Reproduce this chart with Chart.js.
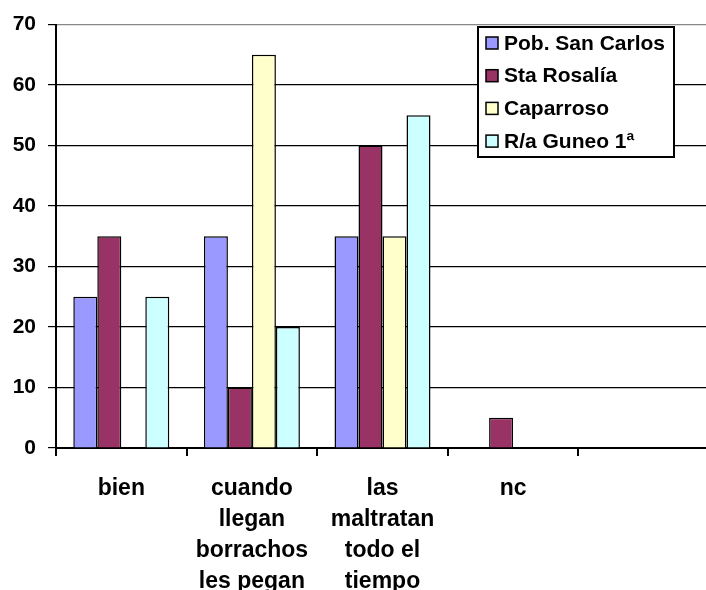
<!DOCTYPE html>
<html><head><meta charset="utf-8">
<script src="https://cdn.jsdelivr.net/npm/chart.js@4"></script>
<style>html,body{margin:0;padding:0;background:#fff;overflow:hidden}#wrap{width:712px;height:590px}</style>
</head><body><div id="wrap"><canvas id="c"></canvas></div>
<script>
const categories = [['bien'], ['cuando', 'llegan', 'borrachos', 'les pegan'], ['las', 'maltratan', 'todo el', 'tiempo'], ['nc'], ['']];
const seriesNames = ['Pob. San Carlos', 'Sta Rosalía', 'Caparroso', 'R/a Guneo 1ª'];
const pobSanCarlos = [25, 35, 35, 0, null];
const staRosalia = [35, 10, 50, 5, null];
const caparroso = [0, 65, 35, 0, null];
const raGuneo = [25, 20, 55, 0, null];
const yMin = 0, yMax = 70, yStep = 10;

const colors = ['#9999FF', '#993366', '#FFFFCC', '#CCFFFF'];
const seriesValues = [pobSanCarlos, staRosalia, caparroso, raGuneo];
const FONT = '"Liberation Sans", Arial, sans-serif';

const boxLegend = {
  id: 'boxLegend',
  afterDraw(chart) {
    const ctx = chart.ctx;
    const x = 478, y = 27, w = 196, h = 130;
    ctx.save();
    ctx.fillStyle = '#fff'; ctx.fillRect(x, y, w, h);
    ctx.lineWidth = 2; ctx.strokeStyle = '#000'; ctx.strokeRect(x, y, w, h);
    ctx.font = 'bold 21px ' + FONT;
    ctx.textBaseline = 'middle';
    ctx.textAlign = 'left';
    chart.data.datasets.forEach((ds, i) => {
      const cy = y + 16 + i * 32.7;
      ctx.fillStyle = ds.backgroundColor; ctx.fillRect(x + 8, cy - 6, 12, 12);
      ctx.lineWidth = 1.5; ctx.strokeStyle = '#000'; ctx.strokeRect(x + 8, cy - 6, 12, 12);
      ctx.fillStyle = '#000'; ctx.fillText(ds.label, x + 26, cy + 1);
    });
    ctx.restore();
  }
};

new Chart(document.getElementById('c'), {
  type: 'bar',
  data: {
    labels: categories,
    datasets: seriesNames.map((n, i) => ({
      label: n,
      data: seriesValues[i],
      backgroundColor: colors[i],
      borderColor: '#000',
      borderWidth: 1.5,
      categoryPercentage: 0.735,
      barPercentage: 1.0
    }))
  },
  options: {
    responsive: true,
    maintainAspectRatio: false,
    animation: false,
    layout: { padding: { top: 24, right: 3, left: 0, bottom: 0 } },
    plugins: { legend: { display: false }, tooltip: { enabled: false } },
    scales: {
      x: {
        offset: true,
        grid: { offset: true, drawOnChartArea: false, color: '#000', lineWidth: 2, tickLength: 8 },
        border: { display: true, color: '#000', width: 2 },
        ticks: { color: '#000', font: { family: FONT, size: 23, weight: 'bold', lineHeight: 1.35 }, padding: 17, maxRotation: 0, autoSkip: false },
        afterFit(s) { s.height = 142; }
      },
      y: {
        min: yMin, max: yMax,
        grid: { color: (c) => c.tick && c.tick.value === yMax ? '#888' : '#000', tickColor: '#000', lineWidth: 1.2, tickLength: 8 },
        border: { display: true, color: '#000', width: 2 },
        ticks: { stepSize: yStep, color: '#000', font: { family: FONT, size: 21, weight: 'bold' }, padding: 12 },
        afterFit(s) { s.width = 56; }
      }
    }
  },
  plugins: [boxLegend]
});
</script>
</body></html>
